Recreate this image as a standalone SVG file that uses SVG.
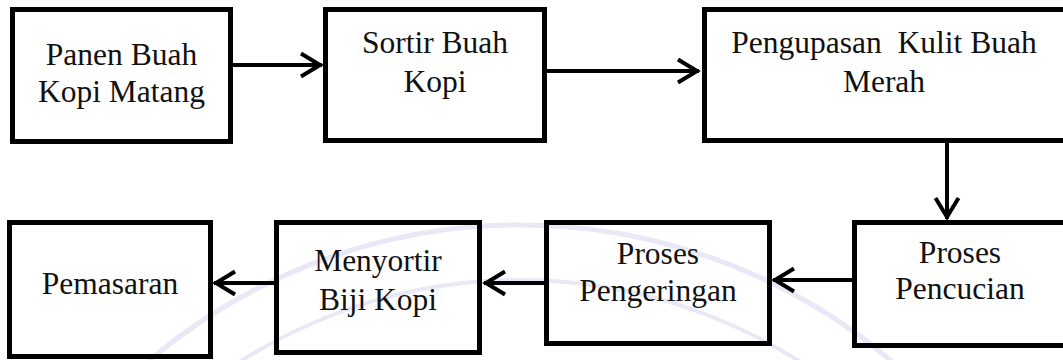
<svg xmlns="http://www.w3.org/2000/svg" width="1063" height="360" viewBox="0 0 1063 360">
<style>
.box{fill:none;stroke:#000;stroke-width:5}
.lbl{font-family:"Liberation Serif","Times New Roman",serif;font-size:31.5px;fill:#111;text-anchor:middle}
.con{stroke:#000;stroke-width:4;fill:none}
.wm{fill:none;stroke:#e8e8f6}
</style>
<defs>
<marker id="ah" viewBox="-24 -14 28 28" refX="0" refY="0" markerWidth="28" markerHeight="28" markerUnits="userSpaceOnUse" orient="auto">
<path d="M-21,-11.5 L-2,0 L-21,11.5" fill="none" stroke="#000" stroke-width="4"/>
</marker>
</defs>
<g id="watermark">
<circle class="wm" cx="520" cy="800" r="575" stroke-width="5"/>
<circle class="wm" cx="520" cy="800" r="520" stroke-width="4"/>
</g>
<g id="n1"><rect class="box" x="12.5" y="9.5" width="218" height="132"/>
<text class="lbl" x="121.5" y="65">Panen Buah</text><text class="lbl" x="121.5" y="102">Kopi Matang</text></g>
<g id="n2"><rect class="box" x="325.5" y="9.5" width="219" height="131"/>
<text class="lbl" x="435" y="53">Sortir Buah</text><text class="lbl" x="435" y="92">Kopi</text></g>
<g id="n3"><rect class="box" x="704.5" y="9.5" width="400" height="131"/>
<text class="lbl" x="884" y="53" xml:space="preserve">Pengupasan  Kulit Buah</text><text class="lbl" x="884" y="92">Merah</text></g>
<g id="n4"><rect class="box" x="854.5" y="222.5" width="300" height="123"/>
<text class="lbl" x="960" y="263">Proses</text><text class="lbl" x="960" y="299">Pencucian</text></g>
<g id="n5"><rect class="box" x="546.5" y="222.5" width="223" height="121"/>
<text class="lbl" x="658" y="264">Proses</text><text class="lbl" x="658" y="301">Pengeringan</text></g>
<g id="n6"><rect class="box" x="276.5" y="222.5" width="203" height="130"/>
<text class="lbl" x="378" y="271">Menyortir</text><text class="lbl" x="378" y="310">Biji Kopi</text></g>
<g id="n7"><rect class="box" x="9.5" y="222.5" width="201" height="134"/>
<text class="lbl" x="110" y="294">Pemasaran</text></g>
<g id="connectors">
<line class="con" x1="233" y1="65" x2="322" y2="65" marker-end="url(#ah)"/>
<line class="con" x1="547" y1="71" x2="699" y2="71" marker-end="url(#ah)"/>
<line class="con" x1="947" y1="143" x2="947" y2="219" marker-end="url(#ah)"/>
<line class="con" x1="852" y1="280" x2="773" y2="280" marker-end="url(#ah)"/>
<line class="con" x1="544" y1="283" x2="484" y2="283" marker-end="url(#ah)"/>
<line class="con" x1="274" y1="283" x2="214" y2="283" marker-end="url(#ah)"/>
</g>
</svg>
